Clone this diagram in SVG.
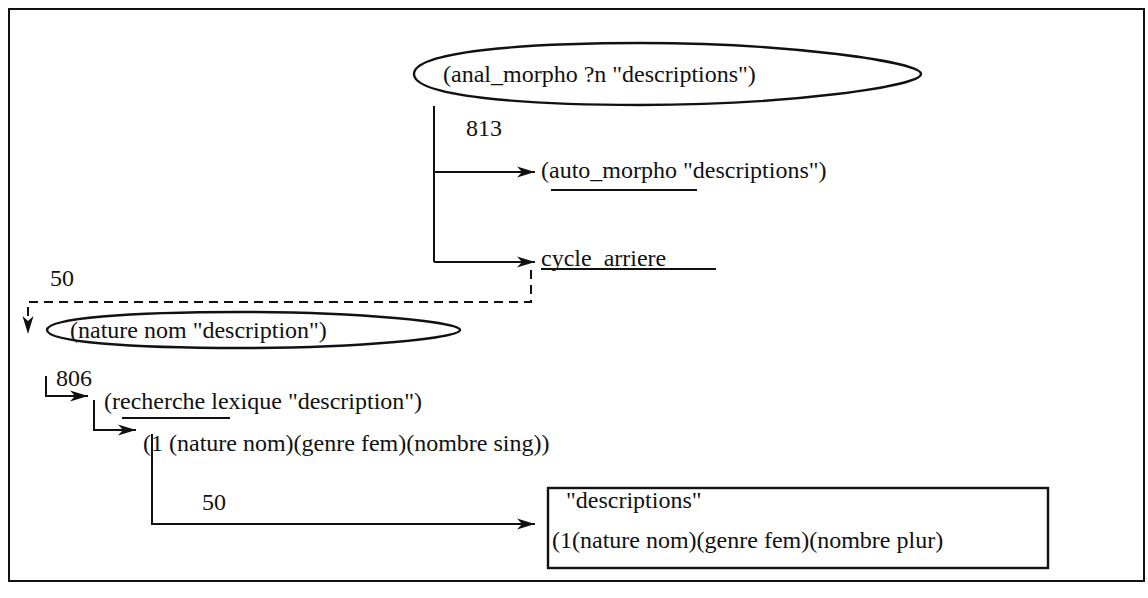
<svg xmlns="http://www.w3.org/2000/svg" width="1148" height="598" viewBox="0 0 1148 598">
<style>
text{font-family:"Liberation Serif","Times New Roman",serif;font-size:24px;fill:#111}
.ln{fill:none;stroke:#111;stroke-width:2}
.dash{fill:none;stroke:#111;stroke-width:2;stroke-dasharray:9 6}
.shape{fill:#fff;stroke:#111;stroke-width:2.4}
.ul{stroke:#111;stroke-width:1.8}
</style>
<defs>
<marker id="ah" markerUnits="userSpaceOnUse" markerWidth="20" markerHeight="14" refX="18" refY="6" orient="auto">
<path d="M0,0.5 L18,6 L0,11.5 L5,6 Z" fill="#111"/>
</marker>
</defs>
<rect x="9" y="9" width="1135" height="572" fill="none" stroke="#111" stroke-width="2"/>
<g id="connectors">
<path class="ln" d="M434 106 V262" />
<path class="ln" d="M434 172 H535" marker-end="url(#ah)"/>
<path class="ln" d="M434 262 H535" marker-end="url(#ah)"/>
<path class="dash" d="M531 270 V302 H28 V334" marker-end="url(#ah)"/>
<path class="ln" d="M46 376 V396 H88" marker-end="url(#ah)"/>
<path class="ln" d="M94 400 V430 H136" marker-end="url(#ah)"/>
<path class="ln" d="M152 434 V524 H535" marker-end="url(#ah)"/>
</g>
<g id="n_anal">
<path class="shape" d="M414,74 C414,52 520,43 640,43 C790,43 921,62 921,74 C921,86 790,105 640,105 C520,105 414,96 414,74 Z"/>
<text x="443" y="82">(anal_morpho ?n "descriptions")</text>
</g>
<g id="l813"><text x="466" y="136">813</text></g>
<g id="n_auto">
<text x="541" y="178">(auto_morpho "descriptions")</text>
<line class="ul" x1="551" y1="190" x2="697" y2="190"/>
</g>
<g id="n_cycle">
<text x="541" y="266">cycle_arriere</text>
<line class="ul" x1="541" y1="269" x2="716" y2="269"/>
</g>
<g id="l50a"><text x="50" y="286">50</text></g>
<g id="n_nature">
<path class="shape" d="M47,330 C47,318 130,312 240,312 C360,312 460,322 460,330 C460,338 360,348 240,348 C130,348 47,342 47,330 Z"/>
<text x="70" y="338">(nature nom "description")</text>
</g>
<g id="l806"><text x="56" y="386">806</text></g>
<g id="n_recherche">
<text x="104" y="409">(recherche lexique "description")</text>
<line class="ul" x1="122" y1="418" x2="230" y2="418"/>
</g>
<g id="n_sing">
<text x="143" y="451">(1 (nature nom)(genre fem)(nombre sing))</text>
</g>
<g id="l50b"><text x="202" y="510">50</text></g>
<g id="n_result">
<rect class="shape" x="548" y="488" width="500" height="80"/>
<text x="566" y="508">"descriptions"</text>
<text x="552" y="548">(1(nature nom)(genre fem)(nombre plur)</text>
</g>
</svg>
